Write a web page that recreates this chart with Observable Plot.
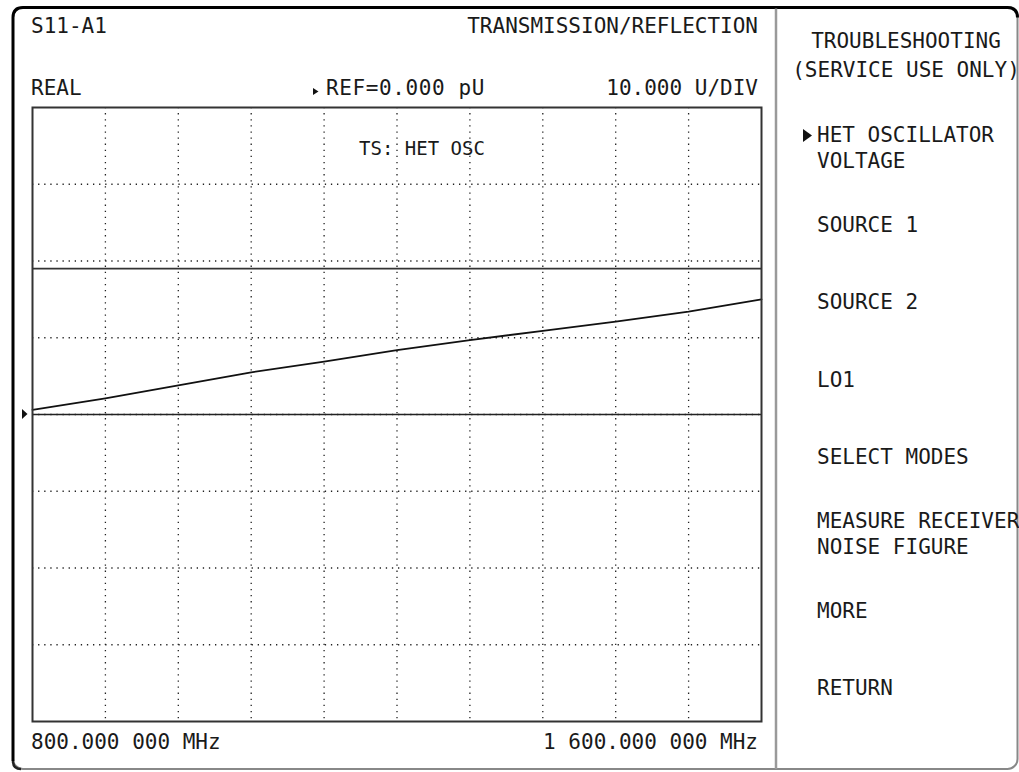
<!DOCTYPE html>
<html>
<head>
<meta charset="utf-8">
<script src="https://cdn.jsdelivr.net/npm/d3@7"></script>
<script src="https://cdn.jsdelivr.net/npm/@observablehq/plot@0.6"></script>
<style>
  html, body { margin: 0; padding: 0; background: #fff; }
  svg { display: block; }
</style>
</head>
<body>
<div id="chart"></div>
<script>
// ---- data ----
const freqStartMHz = 800;
const freqStopMHz = 1600;
const traceDivisions = [0, 1, 2, 3, 4, 5, 6, 7, 8, 9, 10];
const traceValues = [0.6, 2.1, 3.8, 5.5, 6.9, 8.4, 9.7, 10.9, 12.1, 13.4, 15.0];
const refValue = 0;
const unitsPerDiv = 10;
const solidLineValue = 19;
const headerTopLeft = "S11-A1";
const headerTopRight = "TRANSMISSION/REFLECTION";
const headerLeft = "REAL";
const headerRef = "REF=0.000 pU";
const headerScale = "10.000 U/DIV";
const traceLabel = "TS: HET OSC";
const startLabel = "800.000 000 MHz";
const stopLabel = "1 600.000 000 MHz";
const menuTitle = ["TROUBLESHOOTING", "(SERVICE USE ONLY)"];
const softkeys = [
  ["HET OSCILLATOR", "VOLTAGE"],
  ["SOURCE 1"],
  ["SOURCE 2"],
  ["LO1"],
  ["SELECT MODES"],
  ["MEASURE RECEIVER", "NOISE FIGURE"],
  ["MORE"],
  ["RETURN"]
];
const activeSoftkey = 0;

// ---- derived tables ----
const span = freqStopMHz - freqStartMHz;
const trace = traceDivisions.map((d, i) => ({ f: freqStartMHz + d * span / 10, v: traceValues[i] }));
const xGrid = d3.range(1, 10).map(i => freqStartMHz + i * span / 10);
const yGrid = d3.range(-3, 4).map(i => refValue + i * unitsPerDiv);

const W = 1019, H = 772;
const dotted = { stroke: "#222", strokeWidth: 1.3, strokeDasharray: "1.3,4.8" };

const chart = Plot.plot({
  width: W,
  height: H,
  marginLeft: 32,
  marginRight: 258,
  marginTop: 107,
  marginBottom: 51,
  x: { domain: [freqStartMHz, freqStopMHz], axis: null },
  y: { domain: [refValue - 4 * unitsPerDiv, refValue + 4 * unitsPerDiv], axis: null },
  style: { background: "white", fontFamily: "'DejaVu Sans Mono', monospace", overflow: "visible" },
  marks: [
    Plot.ruleX(xGrid, dotted),
    Plot.ruleY(yGrid, dotted),
    Plot.ruleY([refValue], { stroke: "#222", strokeWidth: 1.7 }),
    Plot.ruleY([solidLineValue], { stroke: "#333", strokeWidth: 1.7 }),
    Plot.line(trace, { x: "f", y: "v", stroke: "#111", strokeWidth: 1.8 }),
    Plot.frame({ stroke: "#333", strokeWidth: 2 })
  ]
});

document.getElementById("chart").appendChild(chart);

// ---- decorations and instrument text ----
const svg = d3.select(chart);
const font = "'DejaVu Sans Mono', monospace";
const txtColor = "#1a1a1a";

// outer rounded bezel
const x0 = 13, y0 = 7.5, x1 = 1017.5, y1 = 769, r = 10;
svg.append("rect").attr("x", x0).attr("y", y0).attr("width", x1 - x0).attr("height", y1 - y0)
  .attr("rx", r).attr("fill", "none").attr("stroke", "#888").attr("stroke-width", 2);
svg.append("path")
  .attr("d", `M${x0},${y1 - 8} L${x0},${y0 + r} Q${x0},${y0} ${x0 + r},${y0} L${x1 - r},${y0} Q${x1},${y0} ${x1},${y0 + r}`)
  .attr("fill", "none").attr("stroke", "#000").attr("stroke-width", 3);
svg.append("path")
  .attr("d", `M${x0},${y1 - 8} Q${x0},${y1} ${x0 + 8},${y1}`)
  .attr("fill", "none").attr("stroke", "#222").attr("stroke-width", 2.5);

// divider between display and softkey panel
svg.append("line").attr("x1", 776).attr("x2", 776).attr("y1", y0 + 1).attr("y2", y1)
  .attr("stroke", "#9a9a9a").attr("stroke-width", 2.5);

function addText(str, x, y, anchor, size = 21, spacing = 0) {
  svg.append("text").attr("x", x).attr("y", y).attr("text-anchor", anchor)
    .attr("font-family", font).attr("font-size", size).attr("fill", txtColor)
    .attr("letter-spacing", spacing)
    .text(str);
}

addText(headerTopLeft, 31, 33, "start");
addText(headerTopRight, 758, 33, "end");
addText(headerLeft, 31, 95, "start");
addText(headerRef, 326, 95, "start", 21, 0.6);
addText(headerScale, 758, 95, "end");
addText(traceLabel, 422, 155, "middle", 19);
addText(startLabel, 31, 749, "start");
addText(stopLabel, 758, 749, "end");

// REF arrow and left-edge reference marker
svg.append("path").attr("d", "M313,88 L318.5,91.5 L313,95 Z").attr("fill", "#111");
const yRef = chart.scale("y").apply(refValue);
svg.append("path").attr("d", `M22,${yRef - 5} L27.5,${yRef} L22,${yRef + 5} Z`).attr("fill", "#111");

// softkey panel
addText(menuTitle[0], 906, 48, "middle");
addText(menuTitle[1], 906, 77, "middle");
const keyCenters = d3.range(softkeys.length).map(i => 155 + i * 77.2);
softkeys.forEach((lines, i) => {
  const c = keyCenters[i];
  const base = lines.length === 1 ? c + 0 : c - 13;
  lines.forEach((ln, j) => addText(ln, 817, (lines.length === 1 ? c + 0 : c - 13) + j * 25.5 + (lines.length === 1 ? 0 : 0), "start"));
  if (i === activeSoftkey) {
    const yb = base;
    svg.append("path").attr("d", `M803,${yb - 13} L812,${yb - 6.5} L803,${yb} Z`).attr("fill", "#111");
  }
});
</script>
</body>
</html>
